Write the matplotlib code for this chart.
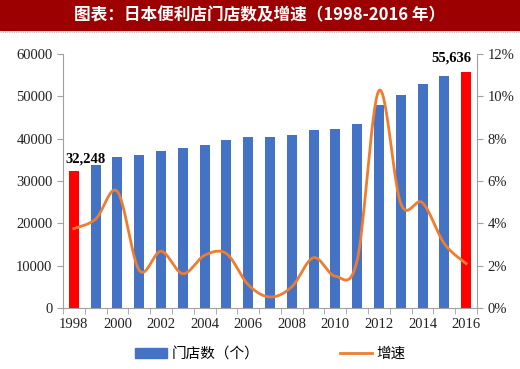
import numpy as np
import matplotlib
matplotlib.use("Agg")
import matplotlib.pyplot as plt
from matplotlib.patches import Rectangle
from matplotlib.lines import Line2D

years = list(range(1998, 2017))
stores = [32248, 33750, 35570, 36100, 37200, 37700, 38600, 39700, 40300,
          40500, 40900, 42000, 42400, 43500, 47900, 50400, 52900, 54700, 55636]
growth = [3.75, 4.2, 5.5, 1.78, 2.68, 1.62, 2.49, 2.57, 1.1,
          0.52, 1.0, 2.38, 1.5, 2.25, 10.27, 4.94, 4.97, 3.04, 2.1]
tick_years = [str(y) for y in years[::2]]
title = "图表：日本便利店门店数及增速（1998-2016 年）"
bar_label = "门店数（个）"
line_label = "增速"

serif = ["Liberation Serif", "DejaVu Serif"]
cjk = ["Noto Sans CJK SC", "DejaVu Sans"]

fig = plt.figure(figsize=(5.2, 3.69), dpi=100)
# title band
fig.patches.append(Rectangle((0, 1 - 30/369), 1, 30/369, transform=fig.transFigure,
                             color="#9C0000", zorder=0))
fig.lines.append(Line2D([0, 1], [1 - 32/369]*2, transform=fig.transFigure,
                        color="#BBBBBB", lw=0.8, ls=(0, (1, 1))))
fig.text(0.5, 1 - 15/369, title, color="white", ha="center", va="center",
         fontsize=12, family=cjk, fontweight="bold")

ax = fig.add_axes([63/520, 61/369, 414/520, 254/369])
x = np.arange(len(years))
colors = ["#FF0000" if i in (0, len(years)-1) else "#4472C4" for i in range(len(years))]
ax.bar(x, stores, width=0.46, color=colors, zorder=2)
ax.set_ylim(0, 60000)
ax.set_xlim(-0.5, len(years) - 0.5)
ax.set_yticks(range(0, 60001, 10000))
ax.set_xticks(x[::2])
ax.set_xticklabels(tick_years)
ax.set_xticks(np.arange(-0.5, len(years), 1), minor=True)
ax.tick_params(axis="x", which="major", length=0, pad=7)
ax.tick_params(axis="x", which="minor", length=4, color="#A0A0A0")
ax.tick_params(axis="y", length=4, color="#A0A0A0")
for s in ["top", "right"]:
    ax.spines[s].set_visible(False)
for s in ["left", "bottom"]:
    ax.spines[s].set_color("#A0A0A0")
for lab in ax.get_xticklabels() + ax.get_yticklabels():
    lab.set_fontfamily(serif)
    lab.set_fontsize(10.5)
    lab.set_color("#222222")

ax.text(x[0] + 0.55, stores[0] + 1300, "32,248", ha="center", va="bottom",
        fontsize=10.5, fontweight="bold", family=serif)
ax.text(x[-1] - 0.7, stores[-1] + 1800, "55,636", ha="center", va="bottom",
        fontsize=10.5, fontweight="bold", family=serif)

# smoothed growth line (Catmull-Rom through data points)
ax2 = ax.twinx()
p = np.column_stack([x, growth]).astype(float)
pts = np.vstack([p[0], p, p[-1]])
xs, ys = [], []
t = np.linspace(0, 1, 30)
for i in range(1, len(pts) - 2):
    p0, p1, p2, p3 = pts[i-1], pts[i], pts[i+1], pts[i+2]
    b1 = p1 + (p2 - p0) / 6
    b2 = p2 - (p3 - p1) / 6
    for tt in t:
        pt = ((1-tt)**3)*p1 + 3*((1-tt)**2)*tt*b1 + 3*(1-tt)*tt**2*b2 + tt**3*p2
        xs.append(pt[0]); ys.append(pt[1])
ax2.plot(xs, ys, color="#ED7D31", lw=2, zorder=3)
ax2.set_ylim(0, 12)
ax2.set_yticks(range(0, 13, 2))
ax2.set_yticklabels([f"{v}%" for v in range(0, 13, 2)])
for s in ["top", "left", "bottom"]:
    ax2.spines[s].set_visible(False)
ax2.spines["right"].set_color("#A0A0A0")
ax2.tick_params(axis="y", length=4, color="#A0A0A0")
for lab in ax2.get_yticklabels():
    lab.set_fontfamily(serif)
    lab.set_fontsize(10.5)
    lab.set_color("#222222")

handles = [Rectangle((0, 0), 1, 1, color="#4472C4"),
           Line2D([0], [0], color="#ED7D31", lw=2)]
fig.legend(handles, [bar_label, line_label], loc="center", bbox_to_anchor=(0.52, 1 - 354/369),
           ncol=2, frameon=False, prop={"family": cjk, "size": 10.5},
           handlelength=2.2, columnspacing=5.5, handletextpad=0.3)

fig.savefig("out.png", dpi=100)
